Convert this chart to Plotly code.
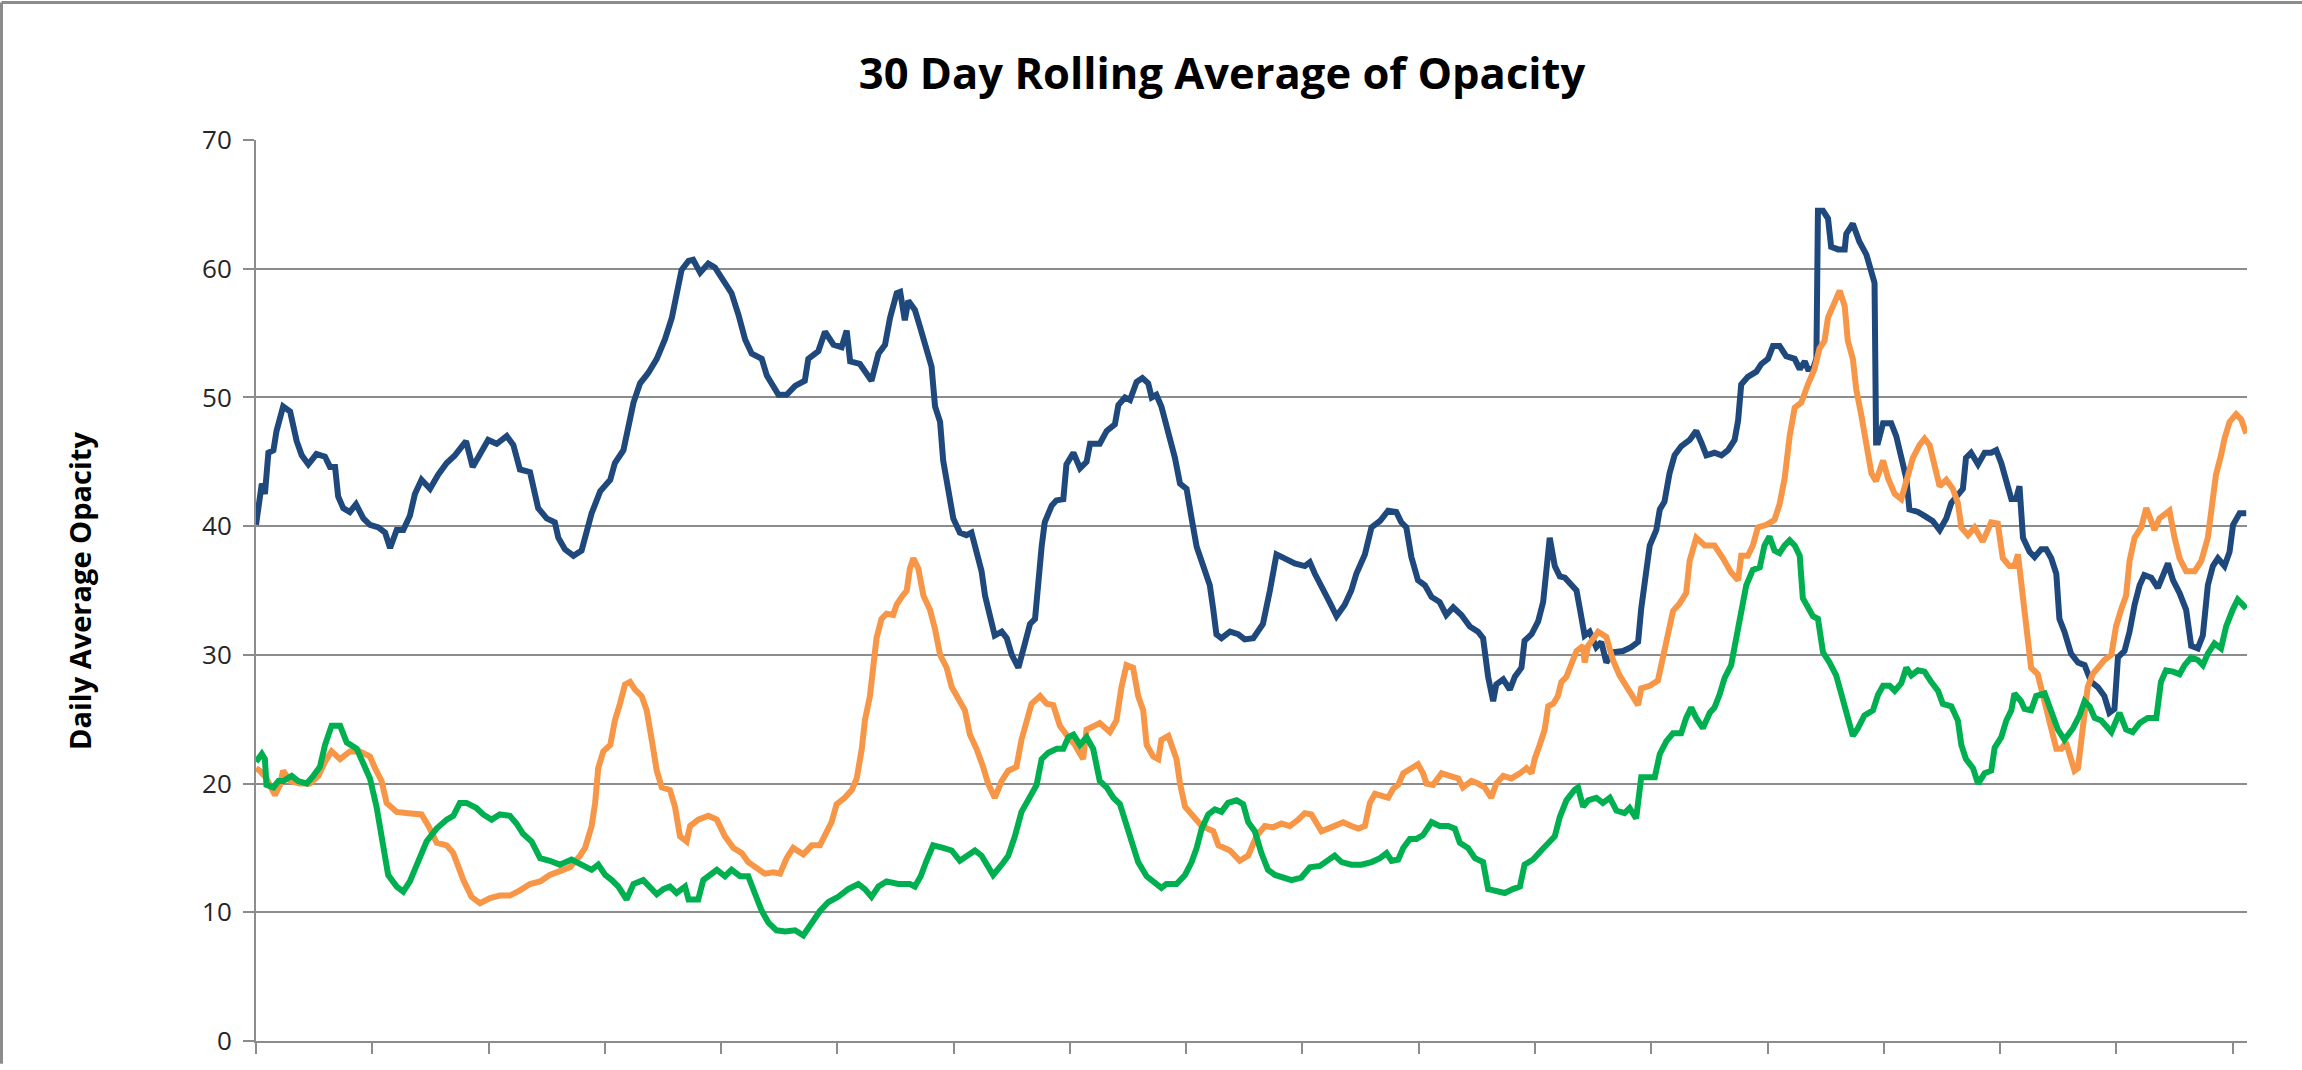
import plotly.graph_objects as go

# ---- data (x = day index along the category axis, y = 30-day rolling average) ----
blue_x = [0, 1.5, 2.3, 3.2, 4.5, 5.3, 7.0, 8.8, 10.5, 11.8, 13.5, 15.6, 17.8, 19.1, 20.4, 21.2, 22.5, 24.2, 25.8, 27.7,
          29.4, 31.6, 33.3, 34.6, 36.3, 38.0, 39.7, 41.0, 42.7, 44.9, 47.0, 49.2, 51.3, 53.5, 54.2, 55.9, 57.8, 59.9, 62.1, 64.7,
          66.4, 68.1, 70.7, 72.8, 75.0, 77.1, 78.0, 79.7, 81.9, 84.0, 86.6, 88.8, 91.4, 92.6, 94.8, 96.1, 97.4, 99.1, 101.2, 103.4,
          105.5, 107.3, 108.5, 109.8, 111.6, 112.8, 114.6, 116.7, 118.4, 120.2, 122.7, 124.5, 126.2, 127.9, 130.5, 131.8, 133.9, 134.8, 136.9, 139.1,
          141.6, 142.5, 145.1, 146.8, 149.0, 151.1, 152.4, 153.3, 155.8, 158.8, 160.6, 162.3, 163.6, 165.3, 166.2, 167.4, 168.3, 170.0, 171.3, 172.6,
          174.3, 175.2, 176.5, 177.3, 178.6, 179.9, 181.6, 183.3, 184.6, 185.9, 187.2, 188.1, 189.4, 190.6, 192.4, 193.7, 195.0, 196.7, 198.4, 199.7,
          201.0, 201.8, 202.7, 203.5, 205.3, 206.5, 208.3, 209.1, 210.9, 212.6, 214.3, 215.2, 217.7, 219.5, 221.6, 222.5, 224.2, 225.5, 227.2, 228.7,
          230.2, 231.1, 232.3, 233.6, 235.4, 237.1, 238.4, 240.1, 241.4, 242.7, 244.4, 246.1, 247.0, 247.8, 249.1, 251.3, 253.4, 255.1, 257.3, 259.8,
          261.6, 263.3, 265.4, 268.0, 270.6, 271.9, 273.2, 275.3, 277.0, 278.8, 280.9, 282.6, 283.9, 286.1, 287.8, 290.0, 292.1, 294.2, 295.5, 296.8,
          298.1, 299.8, 301.6, 303.3, 305.4, 307.1, 308.9, 311.0, 313.2, 315.3, 316.6, 317.9, 319.2, 320.0, 321.8, 323.5, 324.8, 326.5, 327.3, 329.1,
          330.8, 332.1, 332.9, 333.8, 335.1, 336.4, 337.7, 339.4, 340.7, 341.5, 342.8, 344.1, 345.8, 347.1, 348.4, 350.1, 352.7, 354.8, 356.6, 357.4,
          358.3, 359.6, 361.3, 362.2, 363.4, 364.7, 366.0, 367.7, 369.9, 371.6, 372.9, 374.2, 376.3, 378.1, 379.8, 381.5, 382.4, 383.2, 384.9, 387.1,
          388.4, 390.1, 391.4, 393.1, 394.8, 397.0, 398.3, 399.6, 400.4, 401.7, 402.6, 403.0, 404.3, 405.6, 406.4, 408.2, 409.9, 410.3, 412.0, 413.7,
          415.5, 417.6, 418.0, 418.5, 419.8, 421.9, 423.2, 424.5, 425.8, 426.6, 428.8, 430.5, 432.6, 434.4, 436.1, 437.4, 439.1, 440.4, 441.2, 442.5,
          444.3, 446.0, 447.7, 449.0, 450.3, 451.6, 452.9, 454.1, 455.0, 455.9, 457.6, 458.9, 460.6, 461.9, 463.2, 464.5, 465.3, 466.6, 468.3, 470.1,
          471.8, 473.5, 475.2, 476.9, 478.2, 479.5, 480.4, 482.1, 483.4, 484.7, 486.0, 487.2, 489.0, 490.7, 492.0, 493.3, 494.6, 496.3, 498.0, 499.3,
          501.0, 502.3, 503.6, 504.9, 506.2, 507.9, 509.2, 510.1, 511.8, 513.5]
blue_y = [40.1, 43.3, 42.5, 45.7, 45.9, 47.4, 49.3, 48.9, 46.6, 45.5, 44.8, 45.6, 45.4, 44.6, 44.6, 42.3, 41.4, 41.1, 41.7, 40.6,
          40.1, 39.9, 39.5, 38.3, 39.7, 39.7, 40.8, 42.5, 43.6, 42.9, 44.0, 44.9, 45.5, 46.4, 46.6, 44.6, 45.5, 46.7, 46.4, 47.0,
          46.3, 44.4, 44.2, 41.4, 40.6, 40.3, 39.1, 38.2, 37.7, 38.1, 41.0, 42.7, 43.6, 44.9, 45.9, 47.8, 49.6, 51.1, 51.9, 53.0,
          54.5, 56.2, 57.9, 59.9, 60.6, 60.7, 59.7, 60.4, 60.1, 59.2, 58.1, 56.4, 54.5, 53.4, 53.0, 51.7, 50.7, 50.2, 50.2, 50.9,
          51.3, 53.0, 53.6, 55.1, 54.1, 53.9, 55.2, 52.8, 52.6, 51.3, 53.4, 54.1, 56.2, 58.1, 58.2, 56.0, 57.5, 56.8, 55.5, 54.1,
          52.4, 49.3, 48.1, 45.1, 42.9, 40.6, 39.5, 39.3, 39.5, 38.0, 36.5, 34.6, 32.8, 31.5, 31.8, 31.3, 30.0, 29.0, 30.9, 32.4,
          32.8, 36.1, 38.4, 40.3, 41.6, 42.0, 42.1, 44.8, 45.7, 44.5, 45.0, 46.4, 46.4, 47.4, 47.9, 49.4, 50.0, 49.8, 51.2, 51.5,
          51.1, 50.0, 50.2, 49.3, 47.4, 45.3, 43.3, 42.9, 40.6, 38.4, 36.9, 35.4, 33.5, 31.6, 31.3, 31.8, 31.6, 31.2, 31.3, 32.4,
          35.0, 37.8, 37.5, 37.1, 36.9, 37.2, 36.3, 35.2, 34.1, 33.0, 33.9, 35.0, 36.3, 37.8, 39.9, 40.4, 41.2, 41.1, 40.3, 39.9,
          37.6, 35.8, 35.4, 34.5, 34.1, 33.1, 33.7, 33.1, 32.2, 31.8, 31.3, 28.3, 26.4, 27.7, 28.1, 27.3, 28.3, 29.0, 31.1, 31.6,
          32.6, 34.1, 36.9, 39.1, 36.9, 36.1, 36.0, 35.4, 35.0, 33.7, 31.5, 31.8, 30.6, 31.0, 29.4, 30.2, 30.3, 30.6, 31.0, 33.6,
          35.6, 38.5, 39.7, 41.3, 41.9, 44.1, 45.5, 46.2, 46.7, 47.4, 46.5, 45.5, 45.7, 45.5, 45.9, 46.7, 48.2, 51.0, 51.6, 52.0,
          52.6, 53.0, 54.0, 54.0, 53.2, 53.0, 52.2, 52.8, 52.2, 52.2, 53.0, 64.5, 64.5, 63.9, 61.7, 61.5, 61.5, 62.7, 63.5, 62.1,
          61.1, 58.9, 46.5, 46.5, 48.0, 48.0, 47.0, 45.3, 43.7, 41.3, 41.1, 40.8, 40.4, 39.7, 40.6, 41.8, 42.5, 42.9, 45.3, 45.7,
          44.8, 45.7, 45.7, 45.9, 44.9, 43.3, 42.1, 42.1, 43.1, 39.1, 38.0, 37.6, 38.2, 38.2, 37.5, 36.3, 32.8, 31.8, 30.1, 29.4,
          29.2, 27.9, 27.5, 26.8, 25.5, 25.8, 29.8, 30.3, 31.8, 33.9, 35.4, 36.2, 36.0, 35.2, 36.3, 37.1, 35.8, 34.8, 33.5, 30.7,
          30.5, 31.5, 35.4, 36.9, 37.5, 36.9, 38.0, 40.1, 41.0, 41.0]

orange_x = [0, 1.0, 2.7, 4.9, 6.2, 7.0, 8.8, 11.3, 13.9, 16.1, 17.8, 19.5, 21.7, 24.2, 26.8, 29.4, 30.7, 32.4, 33.7, 36.3,
            39.3, 42.7, 44.5, 46.6, 49.2, 50.9, 53.5, 55.6, 57.8, 60.4, 62.9, 65.5, 68.1, 70.7, 73.3, 75.8, 78.4, 81.0, 83.6, 84.9,
            86.6, 87.5, 88.3, 89.6, 91.4, 92.6, 93.9, 95.2, 96.5, 97.8, 99.5, 100.8, 102.1, 103.4, 104.7, 106.8, 108.1, 109.4, 111.1, 112.0,
            114.1, 116.7, 118.9, 121.0, 123.2, 125.3, 127.0, 129.2, 131.3, 133.5, 135.2, 136.9, 138.6, 141.2, 143.4, 145.5, 146.8, 148.5, 149.8, 151.9,
            153.7, 155.0, 156.3, 157.1, 158.4, 159.3, 160.1, 161.4, 162.7, 164.4, 165.3, 166.6, 167.9, 168.7, 169.6, 170.9, 172.2, 173.9, 175.2, 176.5,
            178.2, 179.5, 181.2, 182.9, 184.2, 185.9, 187.6, 188.9, 190.6, 192.4, 194.1, 196.2, 197.5, 198.8, 200.1, 202.3, 204.0, 205.7, 207.4, 209.1,
            211.3, 213.4, 214.3, 216.4, 217.7, 220.3, 222.0, 223.3, 224.6, 226.3, 227.6, 228.9, 229.8, 231.5, 232.8, 233.6, 235.4, 237.5, 238.4, 239.7,
            241.8, 244.0, 247.0, 248.3, 251.3, 253.8, 256.0, 258.1, 260.3, 262.4, 264.6, 266.7, 268.9, 270.6, 272.3, 273.6, 274.9, 276.6, 278.3, 280.5,
            282.6, 284.4, 286.1, 287.4, 288.7, 290.4, 292.1, 293.4, 294.7, 296.0, 298.1, 299.8, 301.1, 302.0, 303.7, 305.9, 308.0, 310.2, 311.4, 313.6,
            315.3, 317.0, 318.7, 320.0, 321.8, 323.9, 326.1, 327.8, 329.1, 329.9, 331.2, 332.5, 333.4, 334.7, 335.9, 336.8, 338.1, 339.4, 340.7, 342.4,
            342.8, 343.7, 345.4, 346.3, 348.4, 350.1, 351.8, 354.0, 355.3, 356.6, 357.4, 359.6, 361.7, 363.0, 364.3, 365.6, 367.3, 369.0, 369.9, 371.6,
            373.8, 376.3, 378.5, 380.6, 382.4, 383.2, 384.9, 386.2, 387.5, 389.7, 391.8, 393.1, 394.4, 395.7, 397.0, 398.7, 400.4, 402.1, 403.4, 404.7,
            405.6, 407.3, 408.6, 409.9, 410.7, 412.0, 412.9, 414.2, 415.5, 416.8, 418.0, 419.8, 421.1, 422.8, 424.5, 425.8, 427.5, 429.2, 430.5, 431.8,
            433.1, 434.4, 436.1, 437.8, 439.1, 440.0, 441.7, 443.4, 445.5, 447.7, 449.4, 450.7, 452.4, 453.7, 454.6, 455.4, 456.3, 457.2, 458.0, 459.7,
            461.0, 462.3, 463.6, 464.5, 465.8, 467.0, 468.3, 469.2, 470.1, 471.3, 472.6, 473.9, 475.2, 476.9, 478.7, 479.9, 481.2, 482.5, 483.4, 484.7,
            486.4, 487.7, 489.0, 489.8, 491.1, 493.7, 495.0, 496.3, 498.0, 500.2, 501.9, 503.6, 504.4, 505.7, 507.0, 507.9, 509.2, 510.9, 512.2, 513.5]
orange_y = [21.2, 21.0, 20.4, 19.1, 19.9, 21.0, 20.2, 20.0, 20.0, 20.6, 21.7, 22.5, 21.9, 22.5, 22.5, 22.1, 21.2, 20.2, 18.5, 17.8,
            17.7, 17.6, 16.7, 15.4, 15.2, 14.6, 12.5, 11.2, 10.7, 11.1, 11.3, 11.3, 11.7, 12.2, 12.4, 12.9, 13.2, 13.5, 14.4, 15.0,
            16.7, 18.5, 21.2, 22.5, 23.0, 24.9, 26.2, 27.7, 27.9, 27.3, 26.8, 25.7, 23.4, 21.0, 19.7, 19.5, 18.2, 15.9, 15.5, 16.7,
            17.2, 17.5, 17.2, 15.9, 15.0, 14.6, 13.9, 13.5, 13.0, 13.1, 13.0, 14.2, 15.0, 14.5, 15.2, 15.2, 16.1, 17.0, 18.4, 18.9,
            19.5, 20.4, 22.7, 24.9, 26.8, 29.4, 31.3, 32.8, 33.2, 33.1, 33.9, 34.5, 35.0, 36.7, 37.5, 36.7, 34.6, 33.5, 32.0, 30.0,
            29.0, 27.5, 26.6, 25.7, 23.8, 22.7, 21.3, 20.0, 18.9, 20.2, 21.0, 21.3, 23.4, 24.9, 26.2, 26.8, 26.2, 26.1, 24.5, 23.8,
            23.0, 21.9, 24.2, 24.5, 24.7, 24.0, 24.9, 27.5, 29.2, 29.0, 26.8, 25.7, 23.0, 22.1, 21.9, 23.4, 23.7, 21.9, 20.0, 18.2,
            17.4, 16.7, 16.3, 15.2, 14.8, 14.0, 14.4, 15.9, 16.7, 16.6, 16.9, 16.7, 17.2, 17.7, 17.6, 16.9, 16.3, 16.5, 16.7, 17.0,
            16.7, 16.5, 16.7, 18.5, 19.2, 19.1, 18.9, 19.6, 19.9, 20.8, 21.2, 21.5, 20.8, 20.0, 19.9, 20.8, 20.6, 20.4, 19.7, 20.2,
            20.0, 19.7, 18.9, 20.0, 20.6, 20.4, 20.8, 21.2, 20.8, 21.9, 23.0, 24.2, 26.0, 26.2, 26.8, 27.9, 28.3, 29.4, 30.3, 30.7,
            29.4, 30.7, 31.5, 31.8, 31.4, 29.6, 28.4, 27.4, 26.7, 26.1, 27.4, 27.6, 28.0, 30.0, 31.6, 33.4, 34.0, 34.8, 37.3, 39.1,
            38.5, 38.5, 37.5, 36.4, 35.8, 37.7, 37.7, 38.5, 39.9, 40.1, 40.5, 41.7, 43.7, 47.0, 49.2, 49.6, 51.0, 52.2, 53.8, 54.4,
            56.2, 57.5, 58.3, 57.1, 54.4, 53.0, 50.6, 48.6, 46.1, 44.1, 43.5, 45.1, 43.7, 42.5, 42.1, 43.5, 45.3, 46.3, 46.8, 46.3,
            44.9, 43.1, 43.6, 42.9, 41.8, 39.9, 39.3, 39.9, 38.8, 40.3, 40.2, 37.5, 36.9, 36.9, 37.8, 35.8, 33.5, 30.9, 29.0, 28.5,
            26.8, 25.1, 23.8, 22.7, 22.7, 23.2, 21.9, 21.0, 21.2, 24.5, 27.5, 28.5, 29.0, 29.6, 30.0, 32.2, 33.5, 34.6, 37.3, 39.1,
            39.9, 41.4, 40.4, 39.7, 40.6, 41.2, 39.1, 37.5, 36.5, 36.5, 37.3, 39.1, 41.0, 44.0, 45.5, 46.8, 48.1, 48.7, 48.3, 47.2]

green_x = [0, 1.5, 2.3, 2.7, 4.5, 5.8, 7.0, 9.2, 10.9, 13.1, 14.8, 16.5, 17.8, 19.5, 21.7, 23.4, 26.0, 27.7, 29.4, 31.1,
           32.8, 34.1, 36.3, 38.0, 39.7, 41.9, 44.0, 46.6, 49.2, 50.9, 52.6, 54.3, 56.9, 58.6, 60.8, 62.9, 65.5, 67.2, 68.9, 71.1,
           73.3, 75.8, 78.4, 81.4, 84.4, 86.6, 88.3, 90.1, 91.8, 93.5, 95.6, 97.4, 99.9, 101.7, 103.4, 105.1, 106.8, 108.5, 110.7, 111.6,
           114.1, 115.4, 117.1, 118.9, 121.0, 122.7, 124.9, 127.0, 128.8, 130.5, 132.2, 134.3, 136.5, 139.1, 141.2, 143.4, 145.5, 147.7, 150.2, 152.8,
           155.4, 157.1, 158.8, 160.6, 162.7, 165.7, 168.7, 170.0, 171.5, 173.0, 174.7, 177.3, 179.5, 181.6, 183.3, 185.5, 187.2, 188.5, 190.2, 192.4,
           194.1, 195.8, 197.5, 199.2, 201.4, 202.7, 204.4, 206.6, 208.3, 209.6, 210.9, 212.6, 214.3, 216.0, 217.7, 219.5, 221.2, 222.9, 224.6, 225.9,
           227.6, 229.8, 232.3, 233.6, 234.9, 237.5, 239.7, 241.4, 242.7, 244.0, 245.7, 247.4, 249.1, 250.8, 253.0, 254.7, 256.0, 257.7, 259.4, 261.1,
           262.9, 265.0, 267.2, 269.7, 271.9, 274.5, 276.2, 278.3, 280.1, 282.6, 285.2, 287.8, 290.0, 291.7, 293.0, 294.7, 296.0, 297.7, 299.4, 301.1,
           303.3, 305.4, 307.6, 309.3, 310.6, 312.7, 314.5, 316.6, 317.9, 320.0, 322.2, 324.3, 326.1, 327.3, 329.5, 331.6, 333.4, 335.1, 336.4, 338.1,
           340.2, 341.1, 342.4, 343.7, 345.8, 347.5, 349.3, 351.0, 353.1, 354.4, 356.1, 357.4, 359.1, 360.9, 362.2, 363.9, 365.6, 367.7, 369.0, 370.3,
           371.6, 373.3, 375.1, 376.3, 377.6, 378.9, 380.6, 381.9, 383.2, 384.5, 386.2, 388.0, 389.2, 390.5, 391.8, 393.1, 394.4, 395.7, 397.0, 398.3,
           399.1, 400.4, 401.7, 403.0, 404.3, 406.0, 407.7, 409.0, 410.7, 412.0, 413.3, 415.0, 417.2, 418.5, 419.8, 421.5, 422.8, 424.5, 425.8, 427.1,
           428.8, 430.5, 432.2, 434.0, 435.2, 437.4, 439.1, 440.0, 441.2, 443.0, 444.3, 446.0, 447.7, 448.6, 450.3, 451.6, 452.9, 453.7, 455.4, 456.3,
           458.0, 459.3, 461.5, 463.2, 464.9, 466.6, 468.8, 470.5, 471.8, 473.1, 474.4, 476.1, 478.7, 480.8, 482.5, 484.2, 486.0, 488.1, 490.3, 491.5,
           492.8, 494.6, 496.3, 497.6, 499.3, 501.0, 502.3, 503.6, 505.3, 507.0, 508.3, 510.0, 511.3, 512.6, 513.5]
green_y = [21.7, 22.3, 21.9, 19.9, 19.7, 20.2, 20.2, 20.6, 20.2, 20.0, 20.6, 21.3, 23.0, 24.5, 24.5, 23.2, 22.7, 21.5, 20.4, 18.2,
           15.2, 12.9, 12.0, 11.6, 12.4, 14.0, 15.5, 16.5, 17.2, 17.5, 18.5, 18.5, 18.1, 17.6, 17.2, 17.6, 17.5, 16.9, 16.1, 15.5,
           14.2, 14.0, 13.7, 14.1, 13.7, 13.3, 13.7, 12.9, 12.5, 12.0, 11.0, 12.2, 12.5, 12.0, 11.4, 11.8, 12.0, 11.5, 12.0, 11.0,
           11.0, 12.5, 12.9, 13.3, 12.8, 13.3, 12.8, 12.8, 11.4, 10.1, 9.2, 8.6, 8.5, 8.6, 8.2, 9.2, 10.1, 10.8, 11.2, 11.8,
           12.2, 11.8, 11.2, 12.0, 12.4, 12.2, 12.2, 12.0, 12.8, 14.0, 15.2, 15.0, 14.8, 14.0, 14.4, 14.8, 14.4, 13.7, 12.9, 13.7,
           14.4, 15.9, 17.8, 18.7, 19.9, 21.9, 22.4, 22.7, 22.7, 23.6, 23.8, 23.0, 23.6, 22.7, 20.2, 19.7, 18.9, 18.4, 16.7, 15.2,
           13.9, 12.8, 12.2, 11.9, 12.2, 12.2, 12.9, 13.9, 15.0, 16.5, 17.6, 18.0, 17.8, 18.5, 18.7, 18.4, 17.0, 16.3, 14.6, 13.3,
           12.9, 12.7, 12.5, 12.7, 13.5, 13.6, 14.0, 14.4, 13.9, 13.7, 13.7, 13.9, 14.2, 14.6, 14.0, 14.1, 15.0, 15.7, 15.7, 16.0,
           17.0, 16.7, 16.7, 16.5, 15.4, 15.0, 14.2, 13.9, 11.8, 11.6, 11.5, 11.8, 12.0, 13.7, 14.1, 14.8, 15.4, 15.9, 17.4, 18.7,
           19.5, 19.7, 18.2, 18.7, 18.9, 18.5, 18.9, 17.9, 17.7, 18.1, 17.3, 20.5, 20.5, 20.5, 22.3, 23.3, 23.9, 23.9, 25.1, 25.9,
           25.1, 24.3, 25.5, 25.9, 26.9, 28.2, 29.2, 31.2, 33.0, 35.4, 36.6, 36.8, 38.5, 39.2, 38.1, 37.9, 38.5, 38.9, 38.5, 37.7,
           34.4, 33.6, 33.0, 32.8, 30.2, 29.4, 28.4, 27.0, 24.9, 23.7, 24.3, 25.3, 25.7, 26.9, 27.6, 27.6, 27.2, 27.8, 29.0, 28.4,
           28.8, 28.7, 27.9, 27.2, 26.2, 26.0, 24.9, 23.0, 21.9, 21.2, 20.0, 20.8, 21.0, 22.8, 23.6, 24.9, 25.7, 27.0, 26.4, 25.8,
           25.7, 26.8, 27.0, 25.5, 24.2, 23.4, 24.3, 25.3, 26.4, 26.0, 25.1, 24.9, 24.0, 25.5, 24.2, 24.0, 24.7, 25.1, 25.1, 27.9,
           28.8, 28.7, 28.5, 29.2, 29.8, 29.6, 29.2, 30.1, 30.9, 30.5, 32.2, 33.5, 34.3, 33.9, 33.6]

series_names = ["Series 1", "Series 2", "Series 3"]
series_colors = ["#1F497D", "#F79646", "#00B050"]
y_tick_values = [0, 10, 20, 30, 40, 50, 60, 70]
x_category_count = 513.7
x_tick_step = 30

title_text = "30 Day Rolling Average of Opacity"
y_title_text = "Daily Average Opacity"

# ---- figure ----
W, H = 2302, 1070
L, R, T, B = 256, 55, 140, 23
pw, ph = W - L - R, H - T - B
grey = "#8c8c8c"

fig = go.Figure()
for xs, ys, name, col in zip([blue_x, orange_x, green_x], [blue_y, orange_y, green_y], series_names, series_colors):
    fig.add_trace(go.Scatter(x=xs, y=ys, mode="lines", name=name,
                             line=dict(color=col, width=6), showlegend=False))

fig.update_layout(
    width=W, height=H, autosize=False,
    margin=dict(l=L, r=R, t=T, b=B, pad=0),
    paper_bgcolor="white", plot_bgcolor="white",
    title=dict(text="<b>" + title_text + "</b>", x=1222 / W, xref="container", xanchor="center",
               y=1 - 74 / H, yref="container", yanchor="middle",
               font=dict(family="Open Sans", size=43.5, color="#000000")),
    font=dict(family="Open Sans"),
)
fig.update_xaxes(range=[0, x_category_count], tickvals=list(range(0, int(x_category_count), x_tick_step)),
                 showticklabels=False, ticks="outside", ticklen=11, tickwidth=2, tickcolor=grey,
                 showline=True, linecolor=grey, linewidth=2, showgrid=False, zeroline=False)
fig.update_yaxes(range=[0, 70], tickvals=y_tick_values, ticks="outside", ticklen=11, tickwidth=2, tickcolor=grey,
                 showline=True, linecolor=grey, linewidth=2, showgrid=True, gridcolor=grey, gridwidth=2,
                 zeroline=False, ticklabelstandoff=6,
                 tickfont=dict(family="Open Sans", size=26, color="#262626"))

fig.add_annotation(text="<b>" + y_title_text + "</b>", textangle=-90, xref="paper", yref="paper",
                   x=(80 - L) / pw, y=(H - B - 594) / ph, xanchor="center", yanchor="middle", showarrow=False,
                   font=dict(family="Open Sans", size=29, color="#000000"))

# outer chart border (top and left edges visible)
fig.add_shape(type="line", xref="paper", yref="paper", x0=(1.5 - L) / pw, x1=(W - L) / pw,
              y0=(H - B - 1.5) / ph, y1=(H - B - 1.5) / ph, line=dict(color=grey, width=3))
fig.add_shape(type="line", xref="paper", yref="paper", x0=(1.5 - L) / pw, x1=(1.5 - L) / pw,
              y0=-B / ph, y1=(H - B - 1.5) / ph, line=dict(color=grey, width=3))

# remove the default 8px page margin so the figure sits at the window's top-left corner
fig.write_html("out.html", config={"displayModeBar": False},
               post_script="document.body.style.margin='0';document.body.style.overflow='hidden';")
